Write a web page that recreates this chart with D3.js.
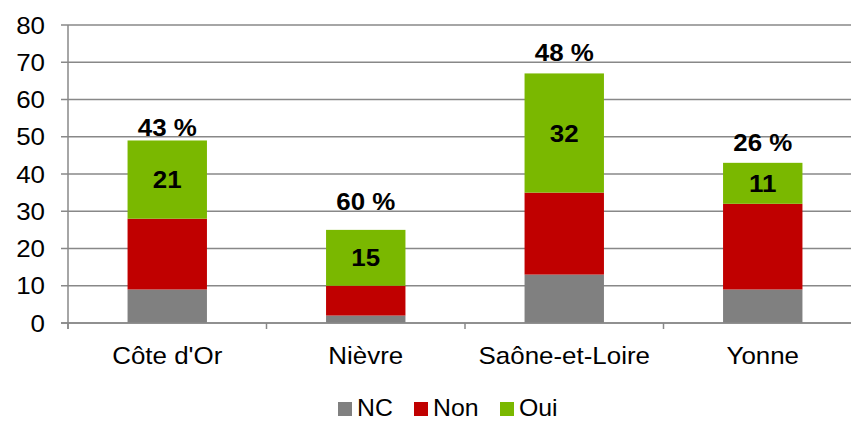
<!DOCTYPE html>
<html>
<head>
<meta charset="utf-8">
<script src="https://cdn.jsdelivr.net/npm/d3@7"></script>
<style>
  body { margin: 0; background: #fff; }
  text { font-family: "Liberation Sans", Arial, sans-serif; }
</style>
</head>
<body>
<script>
// Stacked bars per département : NC / Non / Oui

var categories = ["Côte d'Or", "Nièvre", "Saône-et-Loire", "Yonne"];
var nc  = [9, 2, 13, 9];
var non = [19, 8, 22, 23];
var oui = [21, 15, 32, 11];
var pctLabels = ["43 %", "60 %", "48 %", "26 %"];
var pctLevel = [50, 30, 70, 46];   // axis value where each % label sits
var yTicks = [0, 10, 20, 30, 40, 50, 60, 70, 80];
var seriesNames = ["NC", "Non", "Oui"];
var seriesColors = ["#808080", "#c00000", "#7ab800"];

var width = 851, height = 421;
var stretch = 1.08;   // text in the original is a bit wide

var svg = d3.select('body')
            .append('svg')
            .attr('width', width)
            .attr('height', height);

var x = d3.scaleBand()
          .domain(categories)
          .range([68, 862])
          .paddingInner(0.6)
          .paddingOuter(0.3);

var y = d3.scaleLinear()
          .domain([0, 80])
          .range([323, 25]);

function label(px, py, txt, anchor, size, bold) {
  return svg.append("text")
     .attr("transform", "translate(" + px + "," + py + ") scale(" + stretch + ",1)")
     .attr("text-anchor", anchor)
     .attr("font-size", size)
     .attr("font-weight", bold ? "bold" : "normal")
     .attr("fill", "#000")
     .text(txt);
}

// gridlines
svg.selectAll(".grid")
   .data(yTicks)
   .enter().append("line")
   .attr("x1", 61)
   .attr("x2", 862)
   .attr("y1", function(d) { return y(d); })
   .attr("y2", function(d) { return y(d); })
   .attr("stroke", "#888")
   .attr("stroke-width", 1.5);

// y labels
yTicks.forEach(function(d) {
  label(45, y(d) + 8.5, d, "end", 24, false);
});

// stack the data
var rows = categories.map(function(c, i) {
  return { cat: c, NC: nc[i], Non: non[i], Oui: oui[i] };
});
var stack = d3.stack().keys(seriesNames)(rows);

stack.forEach(function(layer, k) {
  svg.selectAll(".bar" + k)
     .data(layer)
     .enter().append("rect")
     .attr("x", function(d) { return x(d.data.cat); })
     .attr("width", x.bandwidth())
     .attr("y", function(d) { return y(d[1]); })
     .attr("height", function(d) { return y(d[0]) - y(d[1]); })
     .attr("fill", seriesColors[k]);
});

// value labels inside Oui, % labels above
var ouiLayer = stack[2];
ouiLayer.forEach(function(d, i) {
  var cx = x(d.data.cat) + x.bandwidth() / 2;
  label(cx, (y(d[0]) + y(d[1])) / 2 + 8.5, d.data.Oui, "middle", 24, true);
  label(cx, y(pctLevel[i]) - 1, pctLabels[i], "middle", 24, true);
});

// axes lines
svg.append("line")
   .attr("x1", 68).attr("x2", 68)
   .attr("y1", y(80)).attr("y2", y(0) + 6)
   .attr("stroke", "#888").attr("stroke-width", 1.5);
svg.append("line")
   .attr("x1", 61).attr("x2", 862)
   .attr("y1", y(0)).attr("y2", y(0))
   .attr("stroke", "#888").attr("stroke-width", 1.5);

// category tick marks between bands
var step = x.step();
d3.range(5).forEach(function(i) {
  var xx = 68 + i * step;
  svg.append("line")
     .attr("x1", xx).attr("x2", xx)
     .attr("y1", y(0)).attr("y2", y(0) + 6)
     .attr("stroke", "#888").attr("stroke-width", 1.5);
});

// category labels
categories.forEach(function(c) {
  label(x(c) + x.bandwidth() / 2, 364, c, "middle", 24, false);
});

// legend
var legendX = [338, 414, 500];
seriesNames.forEach(function(name, k) {
  svg.append("rect")
     .attr("x", legendX[k])
     .attr("y", 402)
     .attr("width", 14)
     .attr("height", 14)
     .attr("fill", seriesColors[k]);
  label(legendX[k] + 19, 416, name, "start", 23, false);
});
</script>
</body>
</html>
